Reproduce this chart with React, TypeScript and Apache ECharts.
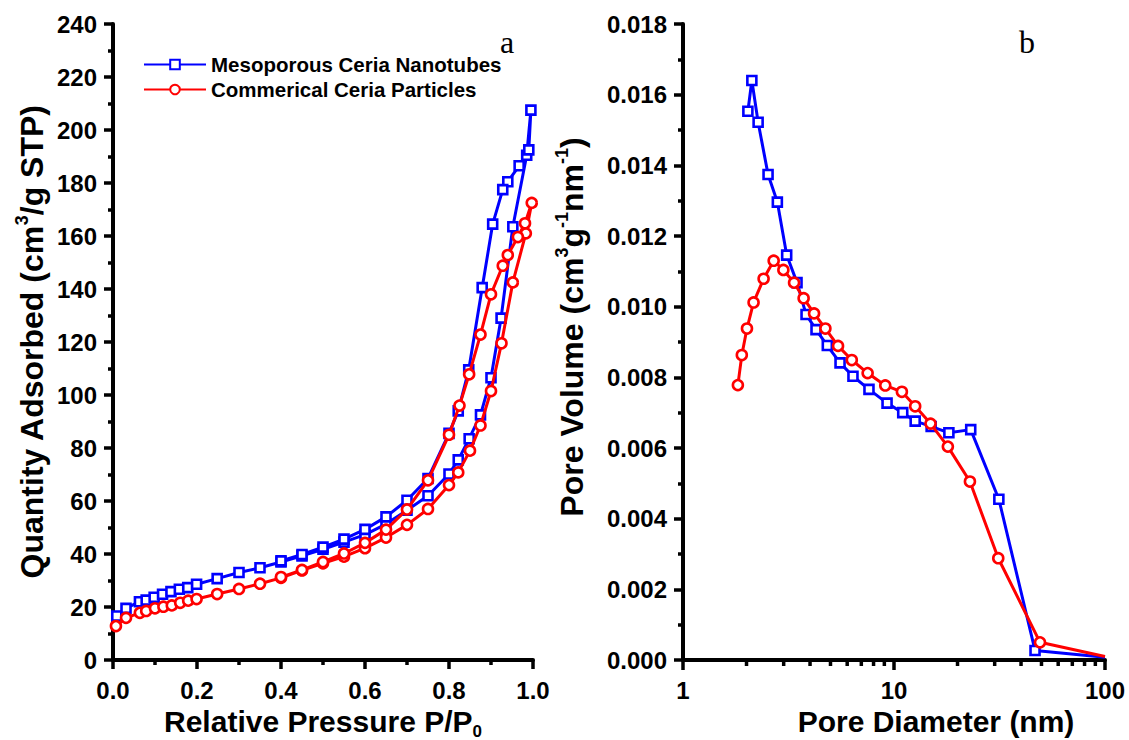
import React, { useEffect, useRef } from "react";
import * as echarts from "echarts";

// ---------- Data (a): N2 adsorption–desorption isotherms ----------
const seriesNames = ["Mesoporous Ceria Nanotubes", "Commerical Ceria Particles"];

// adsorption branch followed by desorption branch
const pressureBlue = [
  0.009, 0.031, 0.063, 0.079, 0.098, 0.118, 0.138, 0.158, 0.178, 0.199, 0.248, 0.3, 0.35, 0.4, 0.45, 0.5,
  0.55, 0.6, 0.65, 0.7, 0.75, 0.8, 0.822, 0.848, 0.875, 0.9, 0.924, 0.952, 0.985, 0.995,
  0.99, 0.967, 0.94, 0.928, 0.904, 0.879, 0.847, 0.822, 0.8, 0.75, 0.7, 0.65, 0.6, 0.55, 0.5, 0.45, 0.4,
];
const quantityBlue = [
  16.6, 19.5, 22.0, 22.6, 23.7, 24.8, 25.8, 26.7, 27.3, 28.6, 30.7, 33.0, 34.8, 37.0, 39.3, 41.8,
  44.5, 47.3, 51.3, 56.5, 62.0, 70.2, 75.5, 83.5, 92.5, 106.5, 129.0, 163.5, 190.5, 207.5,
  192.5, 186.5, 180.5, 177.5, 164.5, 140.5, 109.5, 94.0, 85.5, 68.5, 60.3, 54.0, 49.3, 45.6, 42.6, 39.8, 37.4,
];
const pressureRed = [
  0.007, 0.031, 0.064, 0.079, 0.1, 0.12, 0.14, 0.16, 0.179, 0.199, 0.248, 0.3, 0.35, 0.4, 0.45, 0.5,
  0.55, 0.6, 0.65, 0.7, 0.75, 0.8, 0.822, 0.85, 0.875, 0.9, 0.925, 0.952, 0.983, 0.997,
  0.981, 0.964, 0.94, 0.928, 0.9, 0.875, 0.848, 0.825, 0.8, 0.75, 0.7, 0.65, 0.6, 0.55, 0.5, 0.45, 0.4,
];
const quantityRed = [
  12.8, 15.9, 17.8, 18.5, 19.5, 20.1, 20.6, 21.6, 22.4, 23.0, 24.9, 26.8, 28.8, 31.0, 33.8, 36.5,
  39.0, 42.2, 46.2, 51.0, 57.0, 66.0, 70.8, 79.0, 88.5, 101.5, 119.5, 142.5, 161.0, 172.5,
  164.8, 159.6, 152.8, 148.8, 138.0, 122.8, 107.8, 96.0, 85.0, 67.8, 56.8, 49.2, 44.2, 40.2, 37.0, 34.0, 31.3,
];

// ---------- Data (b): pore size distribution ----------
const diameterBlue = [
  2.03, 2.12, 2.27, 2.53, 2.8, 3.1, 3.47, 3.83, 4.27, 4.83, 5.55, 6.39, 7.61, 9.27, 11.0, 12.6, 15.0, 18.2,
  23.1, 31.4, 46.6, 100,
];
const volumeBlue = [
  0.01553, 0.0164, 0.01522, 0.01374, 0.01296, 0.01146, 0.01068, 0.00978, 0.00935, 0.0089, 0.00841, 0.00803,
  0.00766, 0.00727, 0.007, 0.00676, 0.00661, 0.00643, 0.00652, 0.00455, 0.00027, 0.00008,
];
const diameterRed = [
  1.82, 1.9, 2.01, 2.16, 2.41, 2.69, 2.99, 3.36, 3.73, 4.18, 4.73, 5.43, 6.31, 7.5, 9.09, 10.9, 12.6, 14.9,
  18.0, 22.9, 31.2, 49.2, 100,
];
const volumeRed = [
  0.00778, 0.00863, 0.00938, 0.01012, 0.01079, 0.0113, 0.01104, 0.01068, 0.01024, 0.00981, 0.00938, 0.00889,
  0.00849, 0.00812, 0.00777, 0.00759, 0.00718, 0.00669, 0.00604, 0.00505, 0.00288, 0.0005, 0.0001,
];

// minor tick positions of the logarithmic diameter axis
const logMinorTicks = [2, 3, 4, 5, 6, 7, 8, 9, 20, 30, 40, 50, 60, 70, 80, 90];

const BLUE = "#0000ff";
const RED = "#ff0000";
const FONT = "'Liberation Sans', Arial, sans-serif";

const pairs = (xs: number[], ys: number[], hideLastSymbol = false) =>
  xs.map((x, i) =>
    hideLastSymbol && i === xs.length - 1 ? { value: [x, ys[i]], symbol: "none" } : [x, ys[i]]
  );

const axisLine = { show: true, onZero: false, lineStyle: { color: "#000", width: 4 } };
const axisTick = { show: true, length: 9, lineStyle: { color: "#000", width: 3.5 } };
const minorTick = { show: true, splitNumber: 2, length: 5, lineStyle: { color: "#000", width: 3.5 } };
const labelStyle = { color: "#000", fontSize: 24, fontWeight: "bold", fontFamily: FONT };

const richName = (size: number, lh: number) => ({
  t: { fontSize: size, fontWeight: "bold", fontFamily: FONT, color: "#000", lineHeight: lh },
  sup: { fontSize: 18, fontWeight: "bold", fontFamily: FONT, color: "#000", verticalAlign: "top", lineHeight: 18 },
  sub: { fontSize: 17, fontWeight: "bold", fontFamily: FONT, color: "#000", verticalAlign: "bottom", lineHeight: 17 },
});

const lineSeries = (name: string, color: string, symbol: string, size: number, data: any[], idx: number) => ({
  type: "line",
  name,
  xAxisIndex: idx,
  yAxisIndex: idx,
  data,
  symbol,
  symbolSize: size,
  showAllSymbol: true,
  lineStyle: { color, width: 3 },
  itemStyle: { color: "#fff", borderColor: color, borderWidth: 2.6 },
  emphasis: { disabled: true },
  z: color === RED ? 3 : 2,
});

export default function App() {
  const ref = useRef<HTMLDivElement>(null);
  useEffect(() => {
    if (!ref.current) return;
    const chart = echarts.init(ref.current, undefined, { renderer: "svg" });
    chart.setOption({
      animation: false,
      backgroundColor: "#fff",
      grid: [
        { left: 113, right: 596, top: 24, bottom: 80, outerBoundsMode: "none", containLabel: false },
        { left: 683, right: 24, top: 24, bottom: 80, outerBoundsMode: "none", containLabel: false },
      ],
      legend: {
        data: seriesNames,
        orient: "vertical",
        left: 138,
        top: 49,
        itemWidth: 62,
        itemHeight: 12,
        itemGap: 4,
        textStyle: { color: "#000", fontSize: 20.5, fontWeight: "bold", fontFamily: FONT },
      },
      xAxis: [
        {
          type: "value",
          gridIndex: 0,
          min: 0,
          max: 1,
          interval: 0.2,
          axisLine,
          axisTick,
          minorTick,
          splitLine: { show: false },
          axisLabel: { ...labelStyle, margin: 18, formatter: (v: number) => v.toFixed(1) },
          name: "{t|Relative Pressure P/P}{sub|0}",
          nameLocation: "middle",
          nameGap: 39,
          nameTextStyle: { rich: richName(30, 36) },
        },
        {
          type: "log",
          logBase: 10,
          gridIndex: 1,
          min: 1,
          max: 100,
          axisLine,
          axisTick: { ...axisTick, length: 10 },
          splitLine: { show: false },
          axisLabel: { ...labelStyle, margin: 18 },
          name: "Pore Diameter (nm)",
          nameLocation: "middle",
          nameGap: 39,
          nameTextStyle: {
            fontSize: 30,
            fontWeight: "bold",
            fontFamily: FONT,
            color: "#000",
            padding: [0, 0, 0, 84],
          },
        },
      ],
      yAxis: [
        {
          type: "value",
          gridIndex: 0,
          min: 0,
          max: 240,
          interval: 20,
          axisLine,
          axisTick,
          minorTick,
          splitLine: { show: false },
          axisLabel: { ...labelStyle, margin: 16 },
          name: "{t|Quantity Adsorbed (cm}{sup|3}{t|/g STP)}",
          nameLocation: "middle",
          nameRotate: 90,
          nameGap: 62,
          nameTextStyle: { rich: richName(32, 38) },
        },
        {
          type: "value",
          gridIndex: 1,
          min: 0,
          max: 0.018,
          interval: 0.002,
          axisLine,
          axisTick,
          minorTick,
          splitLine: { show: false },
          axisLabel: { ...labelStyle, margin: 16, formatter: (v: number) => v.toFixed(3) },
          name: "{t|Pore Volume (cm}{sup|3}{t|g}{sup|-1}{t|nm}{sup|-1}{t|)}",
          nameLocation: "middle",
          nameRotate: 90,
          nameGap: 92,
          nameTextStyle: { rich: richName(32, 38), padding: [0, 0, 0, 30] },
        },
      ],
      graphic: [
        {
          type: "text",
          left: 500,
          top: 26,
          style: { text: "a", fontSize: 32, fontFamily: "'Liberation Serif', 'Times New Roman', serif", fill: "#000" },
        },
        {
          type: "text",
          left: 1019,
          top: 26,
          style: { text: "b", fontSize: 32, fontFamily: "'Liberation Serif', 'Times New Roman', serif", fill: "#000" },
        },
      ],
      series: [
        lineSeries(seriesNames[0], BLUE, "rect", 9, pairs(pressureBlue, quantityBlue), 0),
        lineSeries(seriesNames[1], RED, "circle", 10, pairs(pressureRed, quantityRed), 0),
        lineSeries(seriesNames[0], BLUE, "rect", 9, pairs(diameterBlue, volumeBlue, true), 1),
        lineSeries(seriesNames[1], RED, "circle", 10, pairs(diameterRed, volumeRed, true), 1),
        {
          type: "custom",
          xAxisIndex: 1,
          yAxisIndex: 1,
          silent: true,
          clip: false,
          data: logMinorTicks.map((d) => [d, 0]),
          renderItem: (_params: any, api: any) => {
            const p = api.coord([api.value(0), 0]);
            return {
              type: "line",
              shape: { x1: p[0], y1: p[1], x2: p[0], y2: p[1] + 6 },
              style: { stroke: "#000", lineWidth: 3.5 },
            };
          },
        },
      ],
    });
    return () => chart.dispose();
  }, []);
  return (
    <div
      ref={ref}
      style={{ position: "fixed", left: 0, top: 0, width: 1129, height: 740, background: "#fff" }}
    />
  );
}
